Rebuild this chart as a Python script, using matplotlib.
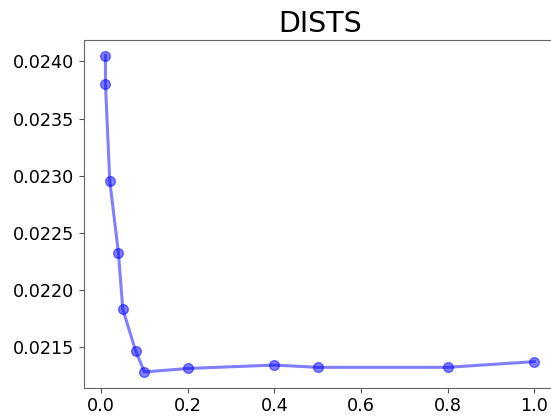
import matplotlib
matplotlib.use('Agg')
import matplotlib.pyplot as plt

# DISTS score vs. parameter value
x_vals = [0.01, 0.01, 0.02, 0.04, 0.05, 0.08, 0.1, 0.2, 0.4, 0.5, 0.8, 1.0]
dists = [0.02405, 0.02380, 0.02295, 0.02232, 0.02183, 0.02146, 0.02128,
         0.02131, 0.02134, 0.02132, 0.02132, 0.02137]

fig = plt.figure(figsize=(5.51, 4.16), dpi=100)
ax = fig.add_axes([0.1525, 0.068, 0.856, 0.836])

ax.plot(x_vals, dists, 'o-', color='blue', alpha=0.5, linewidth=2.2, markersize=7)

ax.set_title('DISTS', fontsize=20.5)
ax.set_xticks([0.0, 0.2, 0.4, 0.6, 0.8, 1.0])
ax.set_yticks([0.0215, 0.0220, 0.0225, 0.0230, 0.0235, 0.0240])
ax.tick_params(labelsize=12.7, color='#555555')
for s in ax.spines.values():
    s.set_color('#666666')

fig.savefig('out.png', dpi=100)
